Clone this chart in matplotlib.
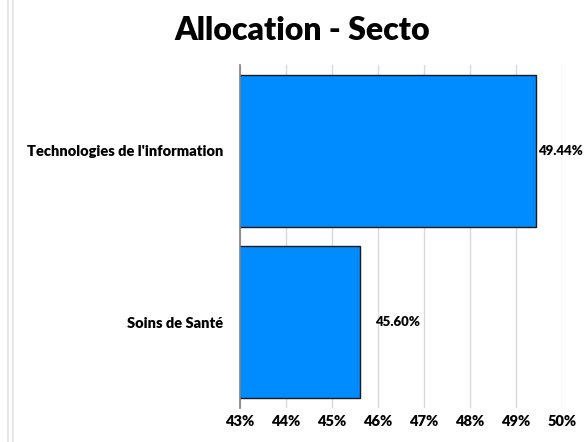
import matplotlib
matplotlib.use("Agg")
import matplotlib.pyplot as plt
from matplotlib.lines import Line2D

# Chart data
sectors = ["Technologies de l'information", "Soins de Santé"]
weights = [49.44, 45.60]
x_ticks = [43, 44, 45, 46, 47, 48, 49, 50]

plt.rcParams['font.family'] = ['Lato', 'DejaVu Sans']

fig = plt.figure(figsize=(5.85, 4.42), dpi=100)
ax = fig.add_axes([240 / 585, 34 / 442, 322 / 585, 343 / 442])

y_pos = list(range(len(sectors)))
ax.barh(y_pos, weights, left=0, height=0.887, color='#008CFF',
        edgecolor='#1a1a1a', linewidth=1.0, zorder=3)

ax.set_xlim(x_ticks[0], x_ticks[-1])
ax.set_ylim(len(sectors) - 0.5, -0.5)
ax.set_xticks(x_ticks)
ax.set_xticklabels([f"{t}%" for t in x_ticks], fontsize=10.5, fontweight='heavy')
ax.set_yticks(y_pos)
ax.set_yticklabels(sectors, fontsize=10.5, fontweight='heavy')
ax.tick_params(axis='x', length=0, pad=5)
ax.tick_params(axis='y', length=0, pad=12)

ax.grid(axis='x', color='#d9d9d9', linewidth=1.0, zorder=0)
for side in ['top', 'right', 'bottom']:
    ax.spines[side].set_visible(False)
ax.spines['left'].set_color('#808080')
ax.spines['left'].set_linewidth(1.2)
ax.spines['left'].set_zorder(4)

# Value labels, kept inside the figure
fig.canvas.draw()
renderer = fig.canvas.get_renderer()
for y, w in zip(y_pos, weights):
    txt = ax.annotate(f"{w:.2f}%", xy=(w, y), xytext=(11, 0),
                      textcoords='offset points', va='center', ha='left',
                      fontsize=9.5, fontweight='heavy', zorder=5)
    bb = txt.get_window_extent(renderer)
    if bb.x1 > fig.bbox.width - 1:
        txt.set_position((1, 0))

fig.text(302 / 585, 1 - 30 / 442, "Allocation - Secto", ha='center', va='center',
         fontsize=23, fontweight='heavy')

# Faint frame lines at the left edge
for xp in (8, 13):
    fig.add_artist(Line2D([xp / 585, xp / 585], [0, 1], color='#e3e3e3', linewidth=1.2))

fig.savefig("out.png", dpi=100)
